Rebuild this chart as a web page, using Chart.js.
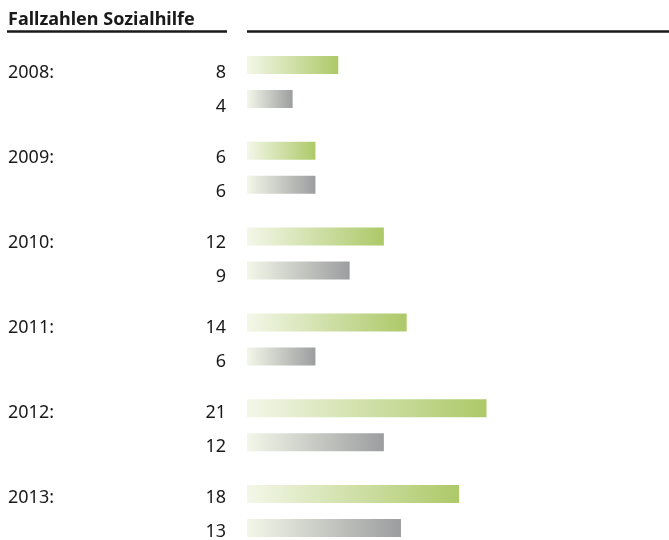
<!DOCTYPE html>
<html>
<head>
<meta charset="utf-8">
<script src="https://cdn.jsdelivr.net/npm/chart.js@4/dist/chart.umd.min.js"></script>
<style>
  html, body { margin: 0; padding: 0; background: #fff; overflow: hidden; }
</style>
</head>
<body>
<canvas id="chart" width="669" height="540"></canvas>
<script>
// Data
const years = ['2008:', '2009:', '2010:', '2011:', '2012:', '2013:'];
// bar lengths as drawn in the picture
const casesGreen = [8, 6, 12, 14, 21, 18.6];
const casesGray = [4, 6, 9, 6, 12, 13.5];
// numbers printed next to the bars
const labelsGreen = ['8', '6', '12', '14', '21', '18'];
const labelsGray = ['4', '6', '9', '6', '12', '13'];

const textColor = '#1a1a1a';
const fontFamily = '"Noto Sans", sans-serif';

// gradient from almost white to the bar colour, across each bar
function barFill(from, to) {
  return function(context) {
    const chart = context.chart;
    const xScale = chart.scales.x;
    if (!chart.chartArea || !xScale || context.raw === undefined) return to;
    const x0 = xScale.getPixelForValue(0);
    const x1 = xScale.getPixelForValue(context.raw);
    const g = chart.ctx.createLinearGradient(x0, 0, x1, 0);
    g.addColorStop(0, from);
    g.addColorStop(1, to);
    return g;
  };
}

// year column and the numbers right of it
const rowLabels = {
  id: 'rowLabels',
  afterDatasetsDraw(chart) {
    const ctx = chart.ctx;
    const texts = [labelsGreen, labelsGray];
    ctx.save();
    ctx.font = '18px ' + fontFamily;
    ctx.fillStyle = textColor;
    ctx.textBaseline = 'alphabetic';
    chart.data.datasets.forEach((ds, i) => {
      chart.getDatasetMeta(i).data.forEach((bar, j) => {
        const y = bar.y + 13.3 - 0.8 * j;
        ctx.textAlign = 'right';
        ctx.fillText(texts[i][j], chart.chartArea.left - 21, y);
        if (i === 0) {
          ctx.textAlign = 'left';
          ctx.fillText(chart.data.labels[j], 8, y);
        }
      });
    });
    ctx.restore();
  }
};

// the two rules under the heading
const headerRules = {
  id: 'headerRules',
  afterDraw(chart) {
    const ctx = chart.ctx;
    const y = 31.5;
    ctx.save();
    ctx.strokeStyle = textColor;
    ctx.lineWidth = 2.5;
    ctx.beginPath();
    ctx.moveTo(7, y);
    ctx.lineTo(chart.chartArea.left - 20, y);
    ctx.moveTo(chart.chartArea.left, y);
    ctx.lineTo(chart.width, y);
    ctx.stroke();
    ctx.restore();
  }
};

const chart = new Chart(document.getElementById('chart'), {
  type: 'bar',
  data: {
    labels: years,
    datasets: [{
      data: casesGreen,
      backgroundColor: barFill('#f3f7e9', '#adc968'),
      categoryPercentage: 0.7925,
      barPercentage: 0.53,
      clip: false
    }, {
      data: casesGray,
      backgroundColor: barFill('#f3f7e9', '#9c9d9f'),
      categoryPercentage: 0.7925,
      barPercentage: 0.53,
      clip: false
    }]
  },
  options: {
    indexAxis: 'y',
    responsive: false,
    animation: false,
    devicePixelRatio: 1,
    layout: { padding: { left: 8, right: 0, top: 0, bottom: 29 } },
    plugins: {
      legend: { display: false },
      tooltip: { enabled: false },
      title: {
        display: true,
        text: 'Fallzahlen Sozialhilfe',
        align: 'start',
        color: textColor,
        font: { family: fontFamily, size: 18, weight: 'bold', lineHeight: 1.25 },
        padding: { top: 8.25, bottom: 51.25 }
      }
    },
    scales: {
      x: { display: false, min: 0, max: 37 },
      y: {
        offset: false,
        grid: { display: false },
        border: { display: false },
        ticks: { display: false },
        afterFit(scale) { scale.width = 239; }
      }
    }
  },
  plugins: [rowLabels, headerRules]
});
</script>
</body>
</html>
